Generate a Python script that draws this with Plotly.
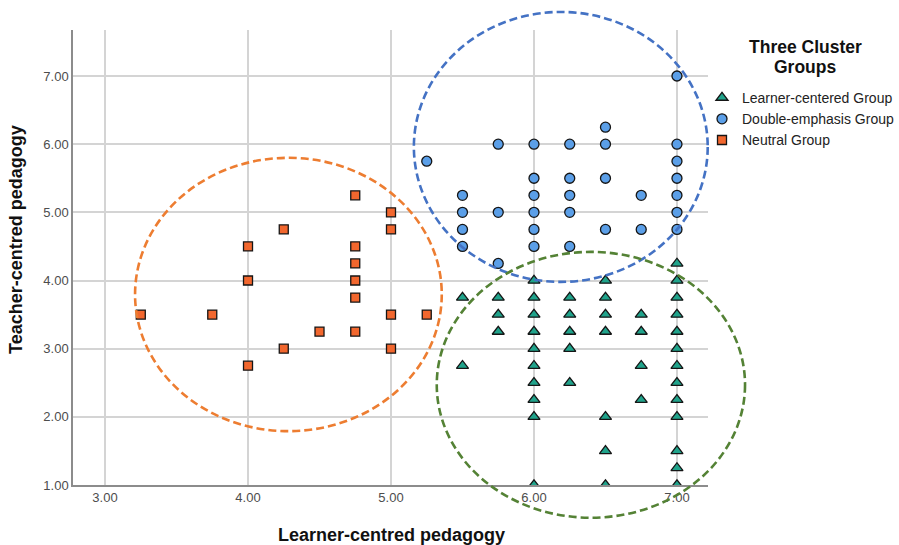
import plotly.graph_objects as go

# ---------------- data ----------------
learner_x = [7.0,
             6.0, 6.5, 7.0,
             5.5, 5.75, 6.0, 6.25, 6.5, 7.0,
             5.75, 6.0, 6.25, 6.5, 6.75, 7.0,
             5.75, 6.0, 6.25, 6.5, 6.75, 7.0,
             6.0, 6.25, 7.0,
             5.5, 6.0, 6.75, 7.0,
             6.0, 6.25, 7.0,
             6.0, 6.75, 7.0,
             6.0, 6.5, 7.0,
             6.5, 7.0,
             7.0,
             6.0, 6.5, 7.0]
learner_y = [4.25,
             4.0, 4.0, 4.0,
             3.75, 3.75, 3.75, 3.75, 3.75, 3.75,
             3.5, 3.5, 3.5, 3.5, 3.5, 3.5,
             3.25, 3.25, 3.25, 3.25, 3.25, 3.25,
             3.0, 3.0, 3.0,
             2.75, 2.75, 2.75, 2.75,
             2.5, 2.5, 2.5,
             2.25, 2.25, 2.25,
             2.0, 2.0, 2.0,
             1.5, 1.5,
             1.25,
             1.0, 1.0, 1.0]

double_x = [7.0, 6.5,
            5.75, 6.0, 6.25, 6.5, 7.0,
            5.25, 7.0,
            6.0, 6.25, 6.5, 7.0,
            5.5, 6.0, 6.25, 6.75, 7.0,
            5.5, 5.75, 6.0, 6.25, 7.0,
            5.5, 6.0, 6.5, 6.75, 7.0,
            5.5, 6.0, 6.25,
            5.75]
double_y = [7.0, 6.25,
            6.0, 6.0, 6.0, 6.0, 6.0,
            5.75, 5.75,
            5.5, 5.5, 5.5, 5.5,
            5.25, 5.25, 5.25, 5.25, 5.25,
            5.0, 5.0, 5.0, 5.0, 5.0,
            4.75, 4.75, 4.75, 4.75, 4.75,
            4.5, 4.5, 4.5,
            4.25]

neutral_x = [4.75, 5.0, 4.25, 5.0, 4.0, 4.75, 4.75, 4.0, 4.75, 4.75,
             3.25, 3.75, 5.0, 5.25, 4.5, 4.75, 4.25, 5.0, 4.0]
neutral_y = [5.25, 5.0, 4.75, 4.75, 4.5, 4.5, 4.25, 4.0, 4.0, 3.75,
             3.5, 3.5, 3.5, 3.5, 3.25, 3.25, 3.0, 3.0, 2.75]

group_names = ["Learner-centered Group", "Double-emphasis Group", "Neutral Group"]

# cluster ellipses (data units): x0, x1, y0, y1
ellipse_neutral = [3.21, 5.355, 1.79, 5.80]
ellipse_double = [5.16, 7.215, 3.98, 7.94]
ellipse_learner = [5.32, 7.476, 0.52, 4.42]

x_ticks = [3, 4, 5, 6, 7]
y_ticks = [1, 2, 3, 4, 5, 6, 7]
x_range = [2.776, 7.217]
y_range = [1.0, 7.675]

# ---------------- layout constants ----------------
W, H = 899, 545
ML, MR, MT, MB = 73, W - 708, 30, H - 485
PW, PH = W - ML - MR, H - MT - MB
FONT = "Liberation Sans, Arial, sans-serif"


def px_x(p):
    return (p - ML) / PW


def px_y(p):
    return (H - MB - p) / PH


def dom_x(v):
    return (v - x_range[0]) / (x_range[1] - x_range[0])


def dom_y(v):
    return (v - y_range[0]) / (y_range[1] - y_range[0])


fig = go.Figure()

fig.add_trace(go.Scatter(
    x=learner_x, y=learner_y, mode="markers", name=group_names[0],
    marker=dict(symbol="triangle-up", size=10.5, color="#20A38B",
                line=dict(color="#151515", width=1.3))))
fig.add_trace(go.Scatter(
    x=double_x, y=double_y, mode="markers", name=group_names[1],
    marker=dict(symbol="circle", size=10, color="#5B9FE8",
                line=dict(color="#151515", width=1.3))))
fig.add_trace(go.Scatter(
    x=neutral_x, y=neutral_y, mode="markers", name=group_names[2],
    marker=dict(symbol="square", size=9, color="#F2672E",
                line=dict(color="#151515", width=1.3))))

for (e, col) in [(ellipse_neutral, "#ED7D31"),
                 (ellipse_double, "#4472C4"),
                 (ellipse_learner, "#548235")]:
    fig.add_shape(type="circle", xref="x domain", yref="y domain",
                  x0=dom_x(e[0]), x1=dom_x(e[1]),
                  y0=dom_y(e[2]), y1=dom_y(e[3]),
                  line=dict(color=col, width=2.6, dash="8px,4px"),
                  layer="above")

axis_common = dict(showgrid=True, gridcolor="#d4d4d4", gridwidth=1.5,
                   showline=True, linecolor="#8c8c8c", linewidth=1.5,
                   zeroline=False, ticks="", automargin=False,
                   tickfont=dict(family=FONT, size=13, color="#4d4d4d"))

fig.update_xaxes(range=x_range, tickvals=x_ticks,
                 ticktext=[f"{v:.2f}" for v in x_ticks], **axis_common)
fig.update_yaxes(range=y_range, tickvals=y_ticks,
                 ticktext=[f"{v:.2f}" for v in y_ticks], **axis_common)

annotations = [
    dict(text="<b>Learner-centred pedagogy</b>", x=px_x(391), y=px_y(535),
         xref="paper", yref="paper", showarrow=False,
         xanchor="center", yanchor="middle",
         font=dict(family=FONT, size=18, color="#111111")),
    dict(text="<b>Teacher-centred pedagogy</b>", x=px_x(16), y=px_y(240),
         xref="paper", yref="paper", showarrow=False, textangle=-90,
         xanchor="center", yanchor="middle",
         font=dict(family=FONT, size=18, color="#111111")),
    dict(text="<b>Three Cluster</b>", x=px_x(805), y=px_y(47),
         xref="paper", yref="paper", showarrow=False,
         xanchor="center", yanchor="middle",
         font=dict(family=FONT, size=17.5, color="#111111")),
    dict(text="<b>Groups</b>", x=px_x(805), y=px_y(67),
         xref="paper", yref="paper", showarrow=False,
         xanchor="center", yanchor="middle",
         font=dict(family=FONT, size=17.5, color="#111111")),
]

fig.update_layout(
    width=W, height=H,
    margin=dict(l=ML, r=MR, t=MT, b=MB, pad=0, autoexpand=False),
    paper_bgcolor="white", plot_bgcolor="white",
    font=dict(family=FONT, color="#222222"),
    showlegend=True,
    legend=dict(x=px_x(702), y=px_y(82), xanchor="left", yanchor="top",
                font=dict(family=FONT, size=14, color="#222222"),
                bgcolor="rgba(0,0,0,0)", borderwidth=0,
                itemwidth=30, tracegroupgap=0),
    annotations=annotations,
)

fig.write_html("out.html",
               config={"displayModeBar": False},
               post_script="document.body.style.margin='0';"
                           "document.body.style.overflow='hidden';")
